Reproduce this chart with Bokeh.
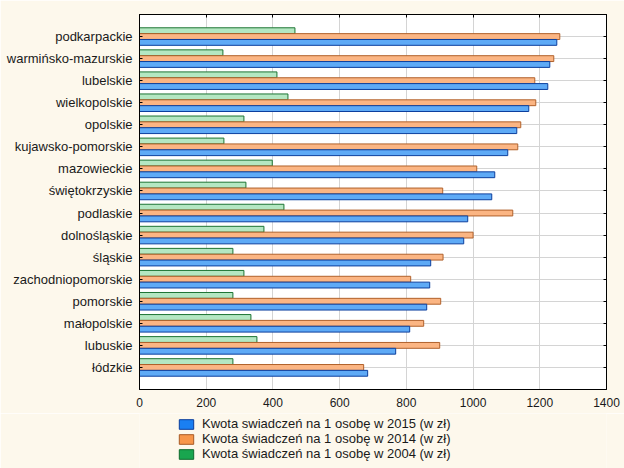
import numpy as np
from bokeh.plotting import figure
from bokeh.layouts import column
from bokeh.models import (ColumnDataSource, FixedTicker, LinearAxis, Legend, LegendItem,
                          Range1d, CustomJSTickFormatter)
from bokeh.transform import dodge
from bokeh.embed import file_html
from bokeh.resources import INLINE

regions = ["podkarpackie", "warmińsko-mazurskie", "lubelskie", "wielkopolskie", "opolskie",
           "kujawsko-pomorskie", "mazowieckie", "świętokrzyskie", "podlaskie", "dolnośląskie",
           "śląskie", "zachodniopomorskie", "pomorskie", "małopolskie", "lubuskie", "łódzkie"]
kwota_2015 = [1251, 1230, 1224, 1167, 1131, 1104, 1065, 1056, 984, 972, 873, 870, 861, 810, 768, 684]
kwota_2014 = [1260, 1242, 1185, 1188, 1143, 1134, 1011, 909, 1119, 1000, 910, 813, 903, 852, 900, 672]
kwota_2004 = [466, 250, 412, 445, 313, 253, 398, 319, 433, 373, 280, 313, 280, 334, 352, 280]
x_ticks = [0, 200, 400, 600, 800, 1000, 1200, 1400]
series_labels = ["Kwota swiadczeń na 1 osobę w 2015 (w zł)",
                 "Kwota świadczeń na 1 osobę w 2014 (w zł)",
                 "Kwota świadczeń na 1 osobę w 2004 (w zł)"]

FONT = "Liberation Sans"
BG = "#fdf8ec"
n = len(regions)
pos = list(range(n, 0, -1))

src = ColumnDataSource(dict(pos=pos, region=regions, k2015=kwota_2015,
                            k2014=kwota_2014, k2004=kwota_2004))

p = figure(frame_width=467, frame_height=375, output_backend="svg", toolbar_location=None,
           x_range=Range1d(0, 1400), y_range=Range1d(0, n + 1),
           min_border_left=139, min_border_right=18, min_border_top=14, min_border_bottom=24,
           x_axis_location=None, y_axis_location=None)
p.border_fill_color = BG
p.background_fill_color = "white"
p.outline_line_color = "black"
p.outline_line_width = 1

bh = 0.265
# bars: green (2004) top, orange (2014) middle, blue (2015) bottom
p.hbar(y=dodge("pos", bh, range=p.y_range), right="k2004", left=0, height=bh, source=src,
       fill_color="#b4e7c2", line_color="#1d7433", line_width=1)
p.hbar(y="pos", right="k2014", left=0, height=bh, source=src,
       fill_color="#fbb583", line_color="#b0612b", line_width=1)
p.hbar(y=dodge("pos", -bh, range=p.y_range), right="k2015", left=0, height=bh, source=src,
       fill_color="#5eaaf6", line_color="#0c3f9e", line_width=1)

# axes
yl = LinearAxis(ticker=FixedTicker(ticks=pos),
                major_label_overrides={p_: r for p_, r in zip(pos, regions)})
yl.major_tick_in = 3
yl.major_tick_out = 0
yl.minor_tick_line_color = None
yl.axis_line_color = "black"
yl.major_label_standoff = 7
yl.major_label_text_font = FONT
yl.major_label_text_font_size = "13px"
yl.major_label_text_color = "#1a1a1a"
p.add_layout(yl, "left")

yr = LinearAxis(ticker=FixedTicker(ticks=pos), formatter=CustomJSTickFormatter(code="return ''"))
yr.major_tick_in = 3
yr.major_tick_out = 0
yr.minor_tick_line_color = None
yr.major_label_standoff = 0
p.add_layout(yr, "right")

xb = LinearAxis(ticker=FixedTicker(ticks=x_ticks))
xb.major_tick_in = 0
xb.major_tick_out = 0
xb.minor_tick_line_color = None
xb.major_label_standoff = 8
xb.major_label_text_font = FONT
xb.major_label_text_font_size = "12px"
xb.major_label_text_color = "#1a1a1a"
p.add_layout(xb, "below")

xt = LinearAxis(ticker=FixedTicker(ticks=x_ticks), formatter=CustomJSTickFormatter(code="return ''"))
xt.major_tick_in = 3
xt.major_tick_out = 0
xt.minor_tick_line_color = None
xt.major_label_standoff = 0
p.add_layout(xt, "above")

p.xgrid.ticker = FixedTicker(ticks=x_ticks)
p.ygrid.ticker = FixedTicker(ticks=pos)
p.xgrid.grid_line_color = "#d4d4d4"
p.ygrid.grid_line_color = "#d4d4d4"

# legend strip below the chart (frame is aligned with the chart's frame by the column)
leg = figure(width=624, height=55, output_backend="svg", toolbar_location=None,
             x_range=Range1d(0, 1), y_range=Range1d(0, 1),
             min_border=0, x_axis_location=None, y_axis_location=None)
leg.border_fill_color = BG
leg.background_fill_color = BG
leg.outline_line_color = None
leg.grid.visible = False

lg_cols = [("#1a7ff2", "#0a3d9c"), ("#f7964a", "#a85a26"), ("#19a64f", "#0e6b2e")]
items = []
for lab, col, (fc, lc) in zip(series_labels, ["k2015", "k2014", "k2004"], lg_cols):
    r = leg.hbar(y="pos", right=col, left=0, height=bh, source=src,
                 fill_color=fc, line_color=lc, visible=False)
    items.append(LegendItem(label=lab, renderers=[r]))

legend = Legend(items=items, location=(38, 7), orientation="vertical",
                border_line_color=None, background_fill_alpha=0, padding=0, margin=0,
                spacing=0, glyph_width=18, glyph_height=12, label_height=12, label_standoff=7,
                inactive_fill_alpha=0,
                label_text_font=FONT, label_text_font_size="13px", label_text_color="#1a1a1a")
leg.add_layout(legend, "center")

page = column(p, leg, spacing=0)
open("out.html", "w").write(file_html(page, INLINE))
